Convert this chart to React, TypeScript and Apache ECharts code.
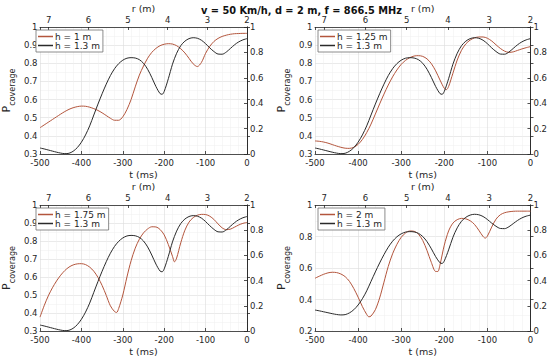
import React, { useEffect, useRef } from 'react';
import * as echarts from 'echarts';

const TITLE = 'v = 50 Km/h, d = 2 m, f = 866.5 MHz';
const REF_LABEL = 'h = 1.3 m';
const CMP_LABELS = ['h = 1 m', 'h = 1.25 m', 'h = 1.75 m', 'h = 2 m'];
const LEFT_MIN = [0.3, 0.3, 0.3, 0.2];
const LEFT_INTERVAL = [0.1, 0.1, 0.1, 0.2];
const R_MIN = 2;
const R_MAX = 7.22;

// h = 1.3 m reference curve [t (ms), P]
const h130: [number, number][] = [
  [-500, 0.333], [-490, 0.328], [-480, 0.322], [-470, 0.316], [-460, 0.31], [-450, 0.305],
  [-440, 0.302], [-430, 0.304], [-420, 0.315], [-410, 0.335], [-400, 0.365], [-390, 0.405],
  [-380, 0.455], [-370, 0.515], [-360, 0.575], [-350, 0.632], [-340, 0.685], [-330, 0.732],
  [-320, 0.77], [-310, 0.798], [-300, 0.817], [-290, 0.828], [-280, 0.831], [-270, 0.829],
  [-260, 0.82], [-250, 0.8], [-240, 0.767], [-230, 0.722], [-220, 0.672], [-210, 0.633],
  [-205, 0.629], [-200, 0.645], [-190, 0.715], [-180, 0.795], [-170, 0.855], [-160, 0.897],
  [-150, 0.922], [-140, 0.936], [-130, 0.941], [-120, 0.938], [-110, 0.927], [-100, 0.908],
  [-90, 0.885], [-80, 0.865], [-70, 0.851], [-60, 0.85], [-50, 0.862], [-40, 0.882],
  [-30, 0.902], [-20, 0.918], [-10, 0.929], [0, 0.936],
];

const h100: [number, number][] = [
  [-500, 0.445], [-490, 0.46], [-480, 0.475], [-470, 0.49], [-460, 0.505], [-450, 0.52],
  [-440, 0.534], [-430, 0.546], [-420, 0.555], [-410, 0.561], [-400, 0.564], [-390, 0.563],
  [-380, 0.558], [-370, 0.55], [-360, 0.54], [-350, 0.527], [-340, 0.512], [-330, 0.497],
  [-320, 0.486], [-310, 0.486], [-300, 0.505], [-290, 0.545], [-280, 0.6], [-270, 0.67],
  [-260, 0.735], [-250, 0.785], [-240, 0.828], [-230, 0.86], [-220, 0.882], [-210, 0.897],
  [-200, 0.905], [-190, 0.908], [-180, 0.906], [-170, 0.897], [-160, 0.88], [-150, 0.857],
  [-140, 0.827], [-130, 0.797], [-120, 0.782], [-110, 0.805], [-100, 0.855], [-90, 0.893],
  [-80, 0.92], [-70, 0.937], [-60, 0.948], [-50, 0.955], [-40, 0.96], [-30, 0.963],
  [-20, 0.964], [-10, 0.965], [0, 0.965],
];

const h125: [number, number][] = [
  [-500, 0.372], [-490, 0.37], [-480, 0.366], [-470, 0.36], [-460, 0.352], [-450, 0.344],
  [-440, 0.337], [-430, 0.332], [-420, 0.331], [-410, 0.337], [-400, 0.353], [-390, 0.38],
  [-380, 0.418], [-370, 0.465], [-360, 0.52], [-350, 0.576], [-340, 0.63], [-330, 0.68],
  [-320, 0.725], [-310, 0.763], [-300, 0.794], [-290, 0.816], [-280, 0.831], [-270, 0.84],
  [-260, 0.842], [-250, 0.838], [-240, 0.824], [-230, 0.798], [-220, 0.758], [-210, 0.708],
  [-200, 0.662], [-195, 0.655], [-190, 0.672], [-180, 0.745], [-170, 0.818], [-160, 0.872],
  [-150, 0.907], [-140, 0.928], [-130, 0.94], [-120, 0.945], [-110, 0.945], [-100, 0.938],
  [-90, 0.923], [-80, 0.902], [-70, 0.882], [-60, 0.867], [-50, 0.86], [-40, 0.863],
  [-30, 0.871], [-20, 0.879], [-10, 0.886], [0, 0.892],
];

const h175: [number, number][] = [
  [-500, 0.377], [-490, 0.44], [-480, 0.495], [-470, 0.54], [-460, 0.578], [-450, 0.61],
  [-440, 0.636], [-430, 0.655], [-420, 0.667], [-410, 0.673], [-400, 0.674], [-390, 0.669],
  [-380, 0.655], [-370, 0.632], [-360, 0.598], [-350, 0.553], [-340, 0.498], [-330, 0.44],
  [-320, 0.408], [-315, 0.403], [-310, 0.425], [-300, 0.5], [-290, 0.6], [-280, 0.69],
  [-270, 0.76], [-260, 0.81], [-250, 0.845], [-240, 0.867], [-230, 0.879], [-220, 0.878],
  [-210, 0.864], [-200, 0.834], [-190, 0.78], [-180, 0.715], [-175, 0.684], [-170, 0.705],
  [-160, 0.79], [-150, 0.86], [-140, 0.905], [-130, 0.93], [-120, 0.943], [-110, 0.948],
  [-100, 0.947], [-90, 0.938], [-80, 0.92], [-70, 0.895], [-60, 0.873], [-50, 0.863],
  [-40, 0.866], [-30, 0.877], [-20, 0.889], [-10, 0.898], [0, 0.903],
];

const h200: [number, number][] = [
  [-500, 0.535], [-490, 0.548], [-480, 0.56], [-470, 0.569], [-460, 0.573], [-450, 0.571],
  [-440, 0.562], [-430, 0.545], [-420, 0.515], [-410, 0.47], [-400, 0.415], [-390, 0.355],
  [-380, 0.305], [-375, 0.29], [-370, 0.295], [-360, 0.335], [-350, 0.41], [-340, 0.51],
  [-330, 0.61], [-320, 0.69], [-310, 0.75], [-300, 0.795], [-290, 0.822], [-280, 0.835],
  [-270, 0.833], [-260, 0.815], [-250, 0.775], [-240, 0.71], [-230, 0.635], [-220, 0.578],
  [-215, 0.578], [-210, 0.62], [-200, 0.745], [-190, 0.835], [-180, 0.885], [-170, 0.907],
  [-160, 0.915], [-150, 0.912], [-140, 0.9], [-130, 0.877], [-120, 0.84], [-110, 0.8],
  [-105, 0.79], [-100, 0.802], [-90, 0.86], [-80, 0.91], [-70, 0.938], [-60, 0.951],
  [-50, 0.957], [-40, 0.96], [-30, 0.961], [-20, 0.961], [-10, 0.961], [0, 0.961],
];

const CMP_DATA = [h100, h125, h175, h200];

const FONT = 'DejaVu Sans';
const INK = '#262626';
const RED = '#b3553c';
const BLACK = '#2a2a2a';

const GRIDS = [
  { left: 33, top: 27, width: 214, height: 127 },
  { left: 315, top: 27, width: 216, height: 127 },
  { left: 33, top: 205, width: 214, height: 127 },
  { left: 315, top: 205, width: 216, height: 127 },
];

export default function App() {
  const ref = useRef<HTMLDivElement>(null);
  useEffect(() => {
    if (!ref.current) return;
    const chart = echarts.init(ref.current, undefined, { renderer: 'svg' });
    const axisLine = { show: true, lineStyle: { color: INK, width: 0.8 } };
    const tick = { show: true, inside: true, length: 3, lineStyle: { color: INK, width: 0.8 } };
    const lbl = { color: INK, fontSize: 8.5, fontFamily: FONT };
    const major = { show: true, lineStyle: { color: '#dcdcdc', width: 0.6 } };
    const minor = { show: true, lineStyle: { color: '#eeeeee', width: 0.5 } };
    const nameStyle = { color: INK, fontSize: 9.5, fontFamily: FONT };

    const xAxis: any[] = [];
    const yAxis: any[] = [];
    const series: any[] = [];
    const legend: any[] = [];
    GRIDS.forEach((g, i) => {
      xAxis.push({
        type: 'value', gridIndex: i, position: 'bottom', min: -500, max: 0, interval: 100,
        axisLine, axisTick: tick, axisLabel: { ...lbl, margin: 4.5 },
        splitLine: major, minorTick: { show: false, splitNumber: 5 }, minorSplitLine: minor,
        name: 't (ms)', nameLocation: 'middle', nameGap: 15, nameTextStyle: nameStyle,
      });
      xAxis.push({
        type: 'value', gridIndex: i, position: 'top', min: R_MIN, max: R_MAX, interval: 1, inverse: true,
        axisLine, axisTick: tick,
        axisLabel: {
          ...lbl, margin: 3,
          formatter: (v: number) => (Math.abs(v - Math.round(v)) < 1e-6 ? String(Math.round(v)) : ''),
        },
        splitLine: { show: false },
        name: 'r (m)', nameLocation: 'middle', nameGap: 14, nameTextStyle: nameStyle,
      });
      yAxis.push({
        type: 'value', gridIndex: i, position: 'left', min: LEFT_MIN[i], max: 1, interval: LEFT_INTERVAL[i],
        axisLine, axisTick: tick, axisLabel: { ...lbl, margin: 2.5 },
        splitLine: major, minorTick: { show: false, splitNumber: 2 }, minorSplitLine: minor,
        name: '{p|P}{c|coverage}', nameLocation: 'middle', nameGap: 17,
        nameTextStyle: {
          color: INK, fontFamily: FONT,
          rich: {
            p: { fontSize: 11, lineHeight: 11, verticalAlign: 'top', color: INK, fontFamily: FONT },
            c: { fontSize: 8, lineHeight: 22, color: INK, fontFamily: FONT },
          },
        },
      });
      yAxis.push({
        type: 'value', gridIndex: i, position: 'right', min: 0, max: 1, interval: 0.2,
        axisLine, axisTick: tick, axisLabel: { ...lbl, margin: 3 },
        splitLine: { show: false },
      });
      series.push({
        type: 'line', name: CMP_LABELS[i], xAxisIndex: 2 * i, yAxisIndex: 2 * i,
        data: CMP_DATA[i], showSymbol: false, symbol: 'none', smooth: 0.3,
        color: RED, lineStyle: { color: RED, width: 1 },
      });
      series.push({
        type: 'line', name: REF_LABEL, xAxisIndex: 2 * i, yAxisIndex: 2 * i,
        data: h130, showSymbol: false, symbol: 'none', smooth: 0.3,
        color: BLACK, lineStyle: { color: BLACK, width: 1 },
      });
      legend.push({
        data: [CMP_LABELS[i], REF_LABEL], left: g.left + 3, top: g.top + 3, orient: 'vertical',
        icon: 'rect', itemWidth: 15, itemHeight: 1.5, itemGap: 0, padding: [2, 3, 2, 2],
        borderColor: '#707070', borderWidth: 0.8, backgroundColor: '#ffffff',
        selectedMode: false, textStyle: { fontSize: 9, color: INK, fontFamily: FONT, padding: [0, 0, 0, -3] },
      });
    });

    chart.setOption({
      animation: false,
      backgroundColor: '#ffffff',
      textStyle: { fontFamily: FONT },
      title: {
        text: TITLE, left: 196, top: 0,
        textStyle: { fontSize: 9.8, fontWeight: 'bold', color: '#111', fontFamily: FONT },
      },
      grid: GRIDS.map((g) => ({ ...g, containLabel: false })),
      xAxis, yAxis, series, legend,
    });
    return () => chart.dispose();
  }, []);
  return <div ref={ref} style={{ position: 'fixed', left: 0, top: 0, width: 550, height: 357 }} />;
}
